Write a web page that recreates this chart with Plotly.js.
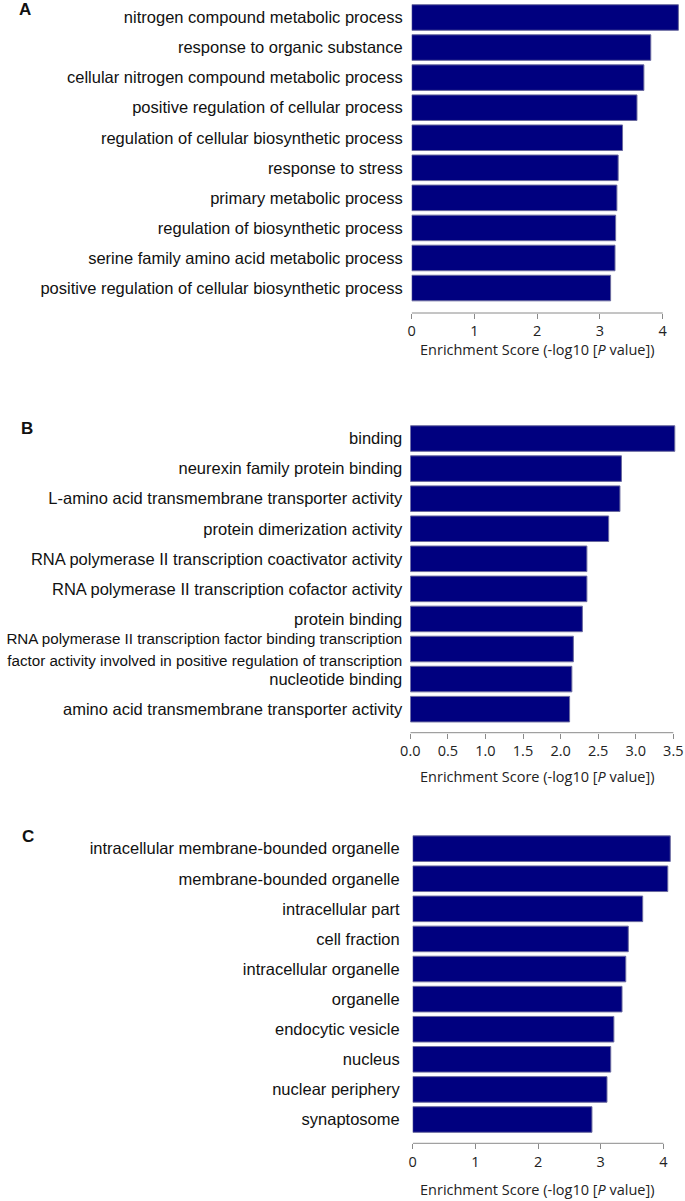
<!DOCTYPE html>
<html>
<head>
<meta charset="utf-8">
<script src="https://cdn.plot.ly/plotly-3.0.1.min.js"></script>
<style>html,body{margin:0;padding:0;background:#fff;}#chart{width:685px;height:1201px;}</style>
</head>
<body>
<div id="chart"></div>
<script>
// ---- Data ----
const categoriesA = [
  "nitrogen compound metabolic process",
  "response to organic substance",
  "cellular nitrogen compound metabolic process",
  "positive regulation of cellular process",
  "regulation of cellular biosynthetic process",
  "response to stress",
  "primary metabolic process",
  "regulation of biosynthetic process",
  "serine family amino acid metabolic process",
  "positive regulation of cellular biosynthetic process"
];
const valuesA = [4.25, 3.81, 3.70, 3.59, 3.36, 3.29, 3.27, 3.25, 3.24, 3.17];

const categoriesB = [
  "binding",
  "neurexin family protein binding",
  "L-amino acid transmembrane transporter activity",
  "protein dimerization activity",
  "RNA polymerase II transcription coactivator activity",
  "RNA polymerase II transcription cofactor activity",
  "protein binding",
  "RNA polymerase II transcription factor binding transcription factor activity involved in positive regulation of transcription",
  "nucleotide binding",
  "amino acid transmembrane transporter activity"
];
const labelsB = [
  "binding",
  "neurexin family protein binding",
  "L-amino acid transmembrane transporter activity",
  "protein dimerization activity",
  "RNA polymerase II transcription coactivator activity",
  "RNA polymerase II transcription cofactor activity",
  "protein binding",
  "<span style=\"font-size:15.2px\">RNA polymerase II transcription factor binding transcription</span><br><span style=\"font-size:15.2px\">factor activity involved in positive regulation of transcription</span>",
  "nucleotide binding",
  "amino acid transmembrane transporter activity"
];
const valuesB = [3.52, 2.81, 2.79, 2.64, 2.35, 2.35, 2.29, 2.17, 2.15, 2.12];

const categoriesC = [
  "intracellular membrane-bounded organelle",
  "membrane-bounded organelle",
  "intracellular part",
  "cell fraction",
  "intracellular organelle",
  "organelle",
  "endocytic vesicle",
  "nucleus",
  "nuclear periphery",
  "synaptosome"
];
const valuesC = [4.11, 4.07, 3.67, 3.44, 3.40, 3.34, 3.21, 3.16, 3.10, 2.86];

const ticksA = [0, 1, 2, 3, 4];
const ticksB = [0, 0.5, 1, 1.5, 2, 2.5, 3, 3.5];
const ticksC = [0, 1, 2, 3, 4];
const xTitle = "Enrichment Score (-log10 [<i>P</i> value])";

// ---- Styles ----
const W = 685, H = 1201;
const barColor = "#00007f";
const barLine = {color: "#6a6a9e", width: 1};
const labelFont = {family: "Liberation Sans, Arial, sans-serif", size: 16.5, color: "#111"};
const tickFont = {family: "Open Sans, sans-serif", size: 14.5, color: "#222"};
const titleFont = {family: "Open Sans, sans-serif", size: 14.5, color: "#222"};
const axisGray = "#8a8a8a";

function bar(cats, vals, xa, ya) {
  return {
    type: "bar", orientation: "h", x: vals, y: cats,
    xaxis: xa, yaxis: ya,
    marker: {color: barColor, line: barLine},
    hoverinfo: "x+y"
  };
}

const data = [
  bar(categoriesA, valuesA, "x", "y"),
  bar(categoriesB, valuesB, "x2", "y2"),
  bar(categoriesC, valuesC, "x3", "y3")
];

function px2x(p) { return p / W; }
function px2y(p) { return 1 - p / H; }

function xax(left, unit, rmax, ticks, fmt, yname) {
  return {
    domain: [px2x(left), px2x(left + rmax * unit)],
    range: [0, rmax], anchor: yname,
    tickvals: ticks, tickformat: fmt,
    ticks: "outside", ticklen: 5, tickwidth: 1, tickcolor: axisGray,
    showgrid: false, zeroline: false, showline: false,
    tickfont: tickFont, fixedrange: true
  };
}
function yax(top, bottom, extra, cats, texts, standoff, xname) {
  return {
    domain: [px2y(bottom), px2y(top)],
    type: "category", categoryarray: cats, categoryorder: "array",
    range: [cats.length - 0.5 + extra, -0.5], anchor: xname,
    tickvals: cats, ticktext: texts,
    ticks: "", showgrid: false, zeroline: false, showline: false,
    tickfont: labelFont, ticklabelstandoff: standoff, automargin: false, fixedrange: true
  };
}

const panelFont = {family: "Liberation Sans, Arial, sans-serif", size: 17, color: "#111"};

const layout = {
  width: W, height: H,
  margin: {l: 0, r: 0, t: 0, b: 0},
  paper_bgcolor: "#fff", plot_bgcolor: "#fff",
  showlegend: false, bargap: 0.15,
  xaxis: xax(411.7, 62.75, 4.3, ticksA, "d", "y"),
  yaxis: yax(2.47, 313, 0.33, categoriesA, categoriesA, 8, "x"),
  xaxis2: xax(410.3, 75.14, 3.6, ticksB, ".1f", "y2"),
  yaxis2: yax(423.5, 732.7, 0.283, categoriesB, labelsB, 7, "x2"),
  xaxis3: xax(412.7, 62.67, 4.2, ticksC, "d", "y3"),
  yaxis3: yax(833.6, 1143.3, 0.29, categoriesC, categoriesC, 12, "x3"),
  shapes: [
    {type: "line", xref: "x", yref: "y domain", x0: 0, x1: 4, y0: 0, y1: 0, line: {color: axisGray, width: 1}},
    {type: "line", xref: "x2", yref: "y2 domain", x0: 0, x1: 3.5, y0: 0, y1: 0, line: {color: axisGray, width: 1}},
    {type: "line", xref: "x3", yref: "y3 domain", x0: 0, x1: 4, y0: 0, y1: 0, line: {color: axisGray, width: 1}}
  ],
  annotations: [
    {text: "<b>A</b>", xref: "paper", yref: "paper", x: px2x(17), y: px2y(10), xanchor: "left", yanchor: "middle", showarrow: false, font: panelFont},
    {text: "<b>B</b>", xref: "paper", yref: "paper", x: px2x(19), y: px2y(428.5), xanchor: "left", yanchor: "middle", showarrow: false, font: panelFont},
    {text: "<b>C</b>", xref: "paper", yref: "paper", x: px2x(20), y: px2y(836), xanchor: "left", yanchor: "middle", showarrow: false, font: panelFont},
    {text: xTitle, xref: "paper", yref: "paper", x: px2x(537), y: px2y(350), xanchor: "center", yanchor: "middle", showarrow: false, font: titleFont},
    {text: xTitle, xref: "paper", yref: "paper", x: px2x(537), y: px2y(776.7), xanchor: "center", yanchor: "middle", showarrow: false, font: titleFont},
    {text: xTitle, xref: "paper", yref: "paper", x: px2x(537), y: px2y(1189), xanchor: "center", yanchor: "middle", showarrow: false, font: titleFont}
  ]
};

Plotly.newPlot("chart", data, layout, {displayModeBar: false, staticPlot: true});
</script>
</body>
</html>
